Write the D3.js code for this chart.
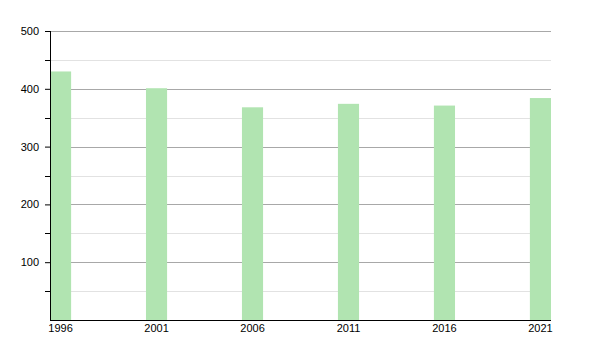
<!DOCTYPE html>
<html>
<head>
<meta charset="utf-8">
<script src="https://cdn.jsdelivr.net/npm/d3@7"></script>
<style>
  body { margin: 0; background: #fff; }
  text { font-family: "Liberation Sans", Arial, sans-serif; font-size: 11px; fill: #000; }
</style>
</head>
<body>
<div id="chart"></div>
<script>
// data
var years = ["1996", "2001", "2006", "2011", "2016", "2021"];
var values = [430, 401, 368, 374, 371, 384];
var yTicks = [100, 200, 300, 400, 500];
var yMinor = [50, 150, 250, 350, 450];

var svgWidth = 600;
var svgHeight = 350;

var margin = { top: 31, right: 49, bottom: 30, left: 50 };
var width = svgWidth - margin.left - margin.right;
var height = svgHeight - margin.top - margin.bottom;

var svg = d3.select("#chart")
  .append("svg")
  .attr("width", svgWidth)
  .attr("height", svgHeight);

var chartGroup = svg.append("g")
  .attr("transform", `translate(${margin.left}, ${margin.top})`);

var xScale = d3.scaleBand()
  .domain(years)
  .range([0, width])
  .paddingInner(0.78)
  .paddingOuter(0);

var yScale = d3.scaleLinear()
  .domain([0, 500])
  .range([height, 0]);

// minor grid
chartGroup.selectAll(".minor")
  .data(yMinor)
  .enter()
  .append("line")
  .attr("x1", 0)
  .attr("x2", width)
  .attr("y1", d => Math.round(yScale(d)) + 0.5)
  .attr("y2", d => Math.round(yScale(d)) + 0.5)
  .attr("stroke", "#e2e2e2");

// major grid
chartGroup.selectAll(".major")
  .data(yTicks)
  .enter()
  .append("line")
  .attr("x1", 0)
  .attr("x2", width)
  .attr("y1", d => Math.round(yScale(d)) + 0.5)
  .attr("y2", d => Math.round(yScale(d)) + 0.5)
  .attr("stroke", "#a8a8a8");

// bars
chartGroup.selectAll("rect")
  .data(values)
  .enter()
  .append("rect")
  .attr("x", (d, i) => xScale(years[i]))
  .attr("y", d => yScale(d))
  .attr("width", xScale.bandwidth())
  .attr("height", d => height - yScale(d))
  .attr("fill", "#b1e4b1");

// y axis
var leftAxis = d3.axisLeft(yScale)
  .tickValues(yTicks)
  .tickSize(5)
  .tickPadding(6);

var yAxis = chartGroup.append("g").call(leftAxis);
yAxis.select(".domain").remove();
yAxis.selectAll("line").attr("stroke", "#000");
yAxis.selectAll("text").style("font-size", "11px");

chartGroup.selectAll(".minortick")
  .data(yMinor)
  .enter()
  .append("line")
  .attr("x1", -5)
  .attr("x2", 0)
  .attr("y1", d => Math.round(yScale(d)) + 0.5)
  .attr("y2", d => Math.round(yScale(d)) + 0.5)
  .attr("stroke", "#000");

chartGroup.append("line")
  .attr("x1", 0.5).attr("x2", 0.5)
  .attr("y1", 0).attr("y2", height)
  .attr("stroke", "#000");

// x axis
var bottomAxis = d3.axisBottom(xScale).tickSize(0).tickPadding(4);
var xAxis = chartGroup.append("g")
  .attr("transform", `translate(0, ${height})`)
  .call(bottomAxis);
xAxis.select(".domain").remove();
xAxis.selectAll("text").style("font-size", "11px");

chartGroup.append("line")
  .attr("x1", 0).attr("x2", width)
  .attr("y1", height + 0.5).attr("y2", height + 0.5)
  .attr("stroke", "#000");
</script>
</body>
</html>
